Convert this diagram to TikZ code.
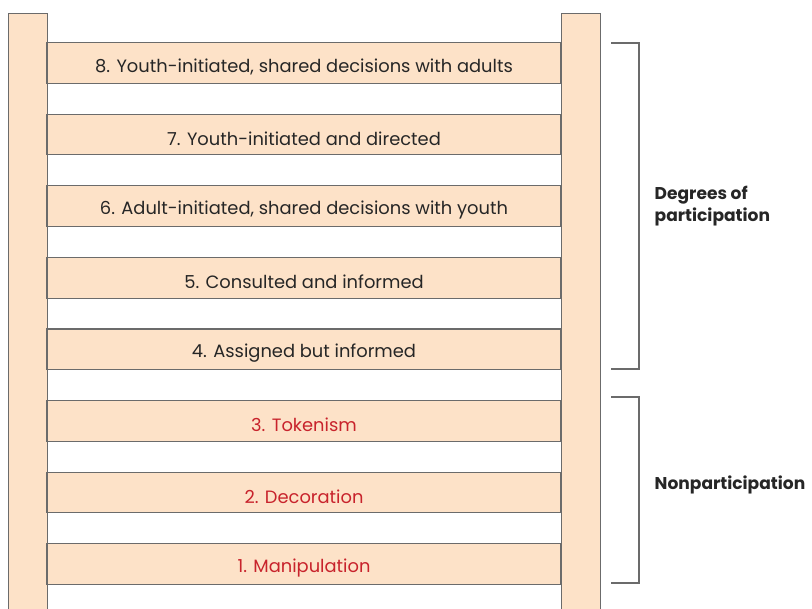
\documentclass[tikz,border=0pt]{standalone}
\usepackage{fontspec}
\setmainfont{Poppins}
\definecolor{rungfill}{HTML}{FDE2C8}
\definecolor{rungline}{HTML}{6B6B6B}
\definecolor{lowred}{HTML}{C8232C}
\begin{document}
\begin{tikzpicture}[x=0.75pt, y=-0.75pt,
    rail/.style={draw=rungline, fill=rungfill, line width=0.8pt, minimum width=29.25pt, minimum height=460pt, inner sep=0pt, anchor=north west},
    rung/.style={draw=rungline, fill=rungfill, line width=0.8pt, minimum width=385.5pt, minimum height=30.5pt, inner sep=0pt, font=\fontsize{13.4}{15}\selectfont, text=black!85},
    bracket/.style={draw=rungline, line width=0.8pt},
    side/.style={anchor=west, align=left, font=\fontsize{12.8}{17}\selectfont\bfseries, text=black!85}]
  \useasboundingbox (0,0) rectangle (812,608);
  \clip (0,0) rectangle (812,608);

  % rails
  \node[rail] (railL) at (8,13) {};
  \node[rail] (railR) at (561,13) {};

  % rungs, 1 at the bottom
  \foreach \k/\txt/\col in {1/1. Manipulation/lowred, 2/2. Decoration/lowred, 3/3. Tokenism/lowred,
      4/4. Assigned but informed/black!85, 5/5. Consulted and informed/black!85,
      6/{6. Adult-initiated, shared decisions with youth}/black!85,
      7/7. Youth-initiated and directed/black!85,
      8/{8. Youth-initiated, shared decisions with adults}/black!85}
  {
    \node[rung] (r\k) at (304, 564-71.57*\k+71.57) {};
    \node[text=\col, font=\fontsize{13.4}{15}\selectfont] (t\k) at ([yshift=-3pt]r\k.center) {\txt};
  }

  % brackets
  \coordinate (b1) at (611,43);
  \coordinate (b2) at (611,369);
  \coordinate (b3) at (611,397);
  \coordinate (b4) at (611,583);
  \draw[bracket] (b1) -- ++(28,0) |- (b2);
  \draw[bracket] (b3) -- ++(28,0) |- (b4);

  \node[side] (deg) at (650,206) {Degrees of\\participation};
  \node[side] (non) at (650,485) {Nonparticipation};
\end{tikzpicture}
\end{document}
